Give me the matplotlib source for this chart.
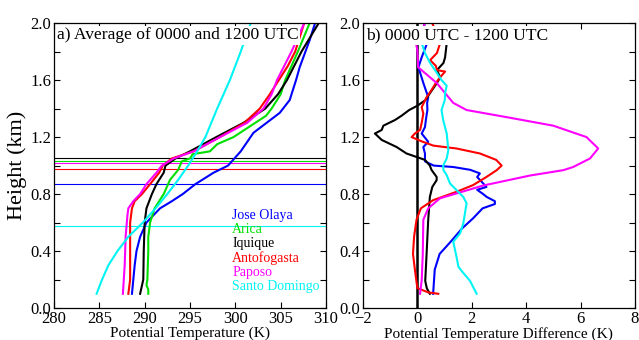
import numpy as np
import matplotlib
matplotlib.use('Agg')
import matplotlib.pyplot as plt
from matplotlib.ticker import MultipleLocator

plt.rcParams['font.family'] = ['Liberation Serif', 'DejaVu Serif']
plt.rcParams['mathtext.fontset'] = 'stix'

names = ['Jose Olaya', 'Arica', 'Iquique', 'Antofogasta', 'Paposo', 'Santo Domingo']
colors = ['#0000ff', '#00e000', '#000000', '#ff0000', '#ff00ff', '#00f4f4']

# a) mean potential temperature profiles (height km, theta K)
h_jo = [0.1, 0.2, 0.3, 0.4, 0.5, 0.6, 0.7, 0.75, 0.8, 0.87, 0.95, 1.0, 1.1, 1.23, 1.37, 1.46, 1.6, 1.69, 1.88, 2.0]
t_jo = [288.6, 288.75, 288.9, 289.1, 289.5, 290.2, 291.7, 293.0, 294.2, 295.6, 297.6, 299.2, 300.6, 302.0, 304.9, 306.0, 306.7, 307.1, 308.2, 308.8]
h_ar = [0.1, 0.13, 0.16, 0.2, 0.4, 0.5, 0.6, 0.7, 0.8, 0.9, 0.97, 1.0, 1.03, 1.05, 1.08, 1.1, 1.15, 1.2, 1.3, 1.35, 1.4, 1.5, 1.6, 1.8, 2.0]
t_ar = [290.4, 290.4, 290.2, 290.3, 290.4, 290.4, 290.6, 291.1, 292.1, 292.8, 293.7, 293.9, 294.1, 295.0, 295.3, 297.2, 298.0, 299.8, 302.2, 303.4, 304.0, 305.0, 305.5, 306.9, 308.2]
h_iq = [0.1, 0.2, 0.4, 0.6, 0.7, 0.8, 0.87, 0.95, 1.0, 1.05, 1.1, 1.2, 1.3, 1.4, 1.5, 1.6, 1.8, 2.0]
t_iq = [289.5, 289.85, 289.9, 290.0, 290.2, 290.8, 291.3, 292.1, 292.3, 293.4, 295.0, 297.9, 300.9, 303.3, 304.7, 305.7, 307.3, 309.2]
h_an = [0.1, 0.15, 0.2, 0.6, 0.7, 0.75, 0.8, 0.87, 0.95, 1.0, 1.05, 1.1, 1.2, 1.3, 1.4, 1.5, 1.6, 1.7, 1.8, 2.0]
t_an = [288.2, 288.3, 288.4, 288.4, 288.6, 288.9, 289.7, 290.6, 291.6, 292.0, 293.0, 295.4, 298.3, 301.0, 302.7, 303.8, 304.8, 305.8, 306.6, 307.6]
h_pa = [0.1, 0.3, 0.5, 0.65, 0.7, 0.75, 0.8, 0.87, 0.95, 1.0, 1.05, 1.1, 1.2, 1.3, 1.4, 1.5, 1.6, 1.8, 2.0]
t_pa = [287.6, 287.8, 287.9, 288.1, 288.2, 288.75, 289.5, 290.2, 291.3, 291.9, 293.2, 295.4, 298.3, 301.3, 303.1, 304.0, 304.6, 306.2, 307.6]
h_sd = [0.1, 0.2, 0.3, 0.4, 0.5, 0.6, 0.7, 0.8, 0.9, 1.0, 1.1, 1.2, 1.4, 1.6, 1.8, 2.0]
t_sd = [284.7, 285.3, 286.0, 287.0, 288.2, 289.8, 291.2, 292.5, 293.7, 294.8, 295.8, 296.7, 298.0, 299.4, 300.6, 301.7]

# inversion base heights (km)
inv_h = [0.870, 1.033, 1.054, 0.973, 1.015, 0.578]

# b) 0000 UTC minus 1200 UTC (height km, difference K)
dh_jo = [0.1, 0.27, 0.38, 0.46, 0.56, 0.63, 0.70, 0.73, 0.75, 0.78, 0.80, 0.83, 0.85, 0.875, 0.92, 0.945, 0.97, 0.99, 1.0, 1.03, 1.085, 1.13, 1.167, 1.225, 1.27, 1.33, 1.39, 1.44, 1.48, 1.58, 1.69, 1.76, 1.85, 2.0]
dd_jo = [0.58, 0.64, 0.82, 1.2, 1.65, 2.05, 2.4, 2.85, 2.85, 2.55, 2.42, 2.2, 2.54, 2.42, 2.2, 2.3, 1.95, 1.32, 0.6, 0.28, 0.28, 0.22, 0.40, 0.16, 0.28, 0.32, 0.37, 0.36, 0.40, 0.22, 0.04, 0.16, 0.34, 0.25]
dh_iq = [0.1, 0.138, 0.19, 0.38, 0.62, 0.78, 0.85, 0.898, 0.92, 0.97, 1.0, 1.04, 1.085, 1.13, 1.18, 1.225, 1.25, 1.28, 1.32, 1.35, 1.39, 1.42, 1.46, 1.51, 1.58, 1.62, 1.67, 1.72, 1.76, 1.86, 1.9]
dd_iq = [0.46, 0.35, 0.29, 0.34, 0.40, 0.46, 0.55, 0.71, 0.71, 0.52, 0.46, 0.28, -0.4, -0.76, -1.31, -1.56, -1.31, -1.25, -0.82, -0.58, -0.3, 0.0, 0.3, 0.47, 0.72, 0.84, 0.72, 0.96, 1.02, 1.08, 1.1]
dh_an = [0.1, 0.11, 0.14, 0.27, 0.38, 0.5, 0.62, 0.7, 0.757, 0.816, 0.863, 0.92, 0.968, 1.0, 1.04, 1.085, 1.12, 1.14, 1.17, 1.2, 1.225, 1.25, 1.30, 1.365, 1.41, 1.48, 1.53, 1.58, 1.62, 1.66, 1.67, 1.70, 1.74, 1.79, 1.86, 2.0]
dd_an = [0.77, 0.4, 0.0, -0.09, -0.16, -0.12, -0.03, 0.13, 0.58, 1.44, 2.05, 2.54, 2.92, 3.1, 2.9, 2.3, 1.44, 0.59, 0.16, -0.21, -0.09, 0.1, 0.16, 0.22, 0.16, 0.34, 0.52, 0.68, 0.84, 1.02, 0.72, 0.68, 0.47, 0.72, 0.84, 0.55]
dh_pa = [0.1, 0.195, 0.38, 0.62, 0.7, 0.77, 0.86, 0.93, 0.968, 0.99, 1.05, 1.12, 1.2, 1.28, 1.34, 1.39, 1.44, 1.58, 1.69, 1.81, 1.85, 2.0]
dd_pa = [0.1, 0.16, 0.2, 0.22, 0.40, 0.83, 2.42, 4.14, 5.37, 5.73, 6.35, 6.65, 6.22, 5.0, 3.28, 1.81, 1.32, 0.71, 0.03, 0.0, -0.04, 0.28]
dh_sd = [0.1, 0.19, 0.26, 0.29, 0.36, 0.465, 0.524, 0.594, 0.665, 0.735, 0.78, 0.828, 0.875, 0.933, 0.968, 1.0, 1.05, 1.11, 1.225, 1.32, 1.39, 1.46, 1.51, 1.56, 1.6, 1.65, 1.72, 1.79, 1.86, 1.9]
dd_sd = [2.18, 1.94, 1.63, 1.51, 1.44, 1.32, 1.57, 1.69, 1.75, 1.81, 1.69, 1.44, 1.20, 1.08, 0.96, 0.95, 1.08, 1.14, 1.08, 0.95, 0.89, 1.01, 1.02, 1.08, 0.89, 0.72, 0.47, 0.28, 0.16, 0.12]

fig = plt.figure(figsize=(6.39, 3.4), dpi=100)
ax1 = fig.add_axes([0.0845, 0.094, 0.4256, 0.838])
ax2 = fig.add_axes([0.568, 0.094, 0.4256, 0.838])

prof = [(t_jo, h_jo), (t_ar, h_ar), (t_iq, h_iq), (t_an, h_an), (t_pa, h_pa), (t_sd, h_sd)]
for c, hi in zip(colors, inv_h):
    ax1.axhline(hi, color=c, lw=0.8, zorder=1)
for (t, h), c in zip(prof, colors):
    ax1.plot(t, h, color=c, lw=1.5, zorder=2)

diff = [(dd_jo, dh_jo), (dd_iq, dh_iq), (dd_an, dh_an), (dd_pa, dh_pa), (dd_sd, dh_sd)]
dcol = [colors[0], colors[2], colors[3], colors[4], colors[5]]
ax2.axvline(0, color='black', lw=1.8, zorder=1)
for (d, h), c in zip(diff, dcol):
    ax2.plot(d, h, color=c, lw=1.5, zorder=2)

ax1.set_xlim(280, 310)
ax2.set_xlim(-2, 8)
ax1.xaxis.set_major_locator(MultipleLocator(5))
ax2.xaxis.set_major_locator(MultipleLocator(2))
for ax in (ax1, ax2):
    ax.set_ylim(0, 2)
    ax.yaxis.set_major_locator(MultipleLocator(0.4))
    ax.yaxis.set_minor_locator(MultipleLocator(0.2))
    ax.tick_params(which='both', direction='in', top=True, right=True, length=4, width=0.8, labelsize=12, pad=2)
    ax.yaxis.set_major_formatter(matplotlib.ticker.FormatStrFormatter('%.1f'))
    for s in ax.spines.values():
        s.set_linewidth(0.9)

ax1.set_xlabel('Potential Temperature (K)', fontsize=11, labelpad=0)
ax2.set_xlabel('Potential Temperature Difference (K)', fontsize=11, labelpad=0)
ax1.set_ylabel('Height (km)', fontsize=16, labelpad=2)

bb = dict(facecolor='white', edgecolor='none', pad=1)
ax1.text(0.012, 0.985, 'a) Average of 0000 and 1200 UTC', transform=ax1.transAxes, ha='left', va='top',
         fontsize=12.6, bbox=bb, zorder=5)
ax2.text(0.012, 0.985, 'b) 0000 UTC - 1200 UTC', transform=ax2.transAxes, ha='left', va='top',
         fontsize=12.6, bbox=bb, zorder=5)

for i, (n, c) in enumerate(zip(names, colors)):
    ax1.text(0.655, 0.325 - i * 0.05, n, color=c, transform=ax1.transAxes, ha='left', va='center', fontsize=10)

fig.savefig('out.png', dpi=100)
